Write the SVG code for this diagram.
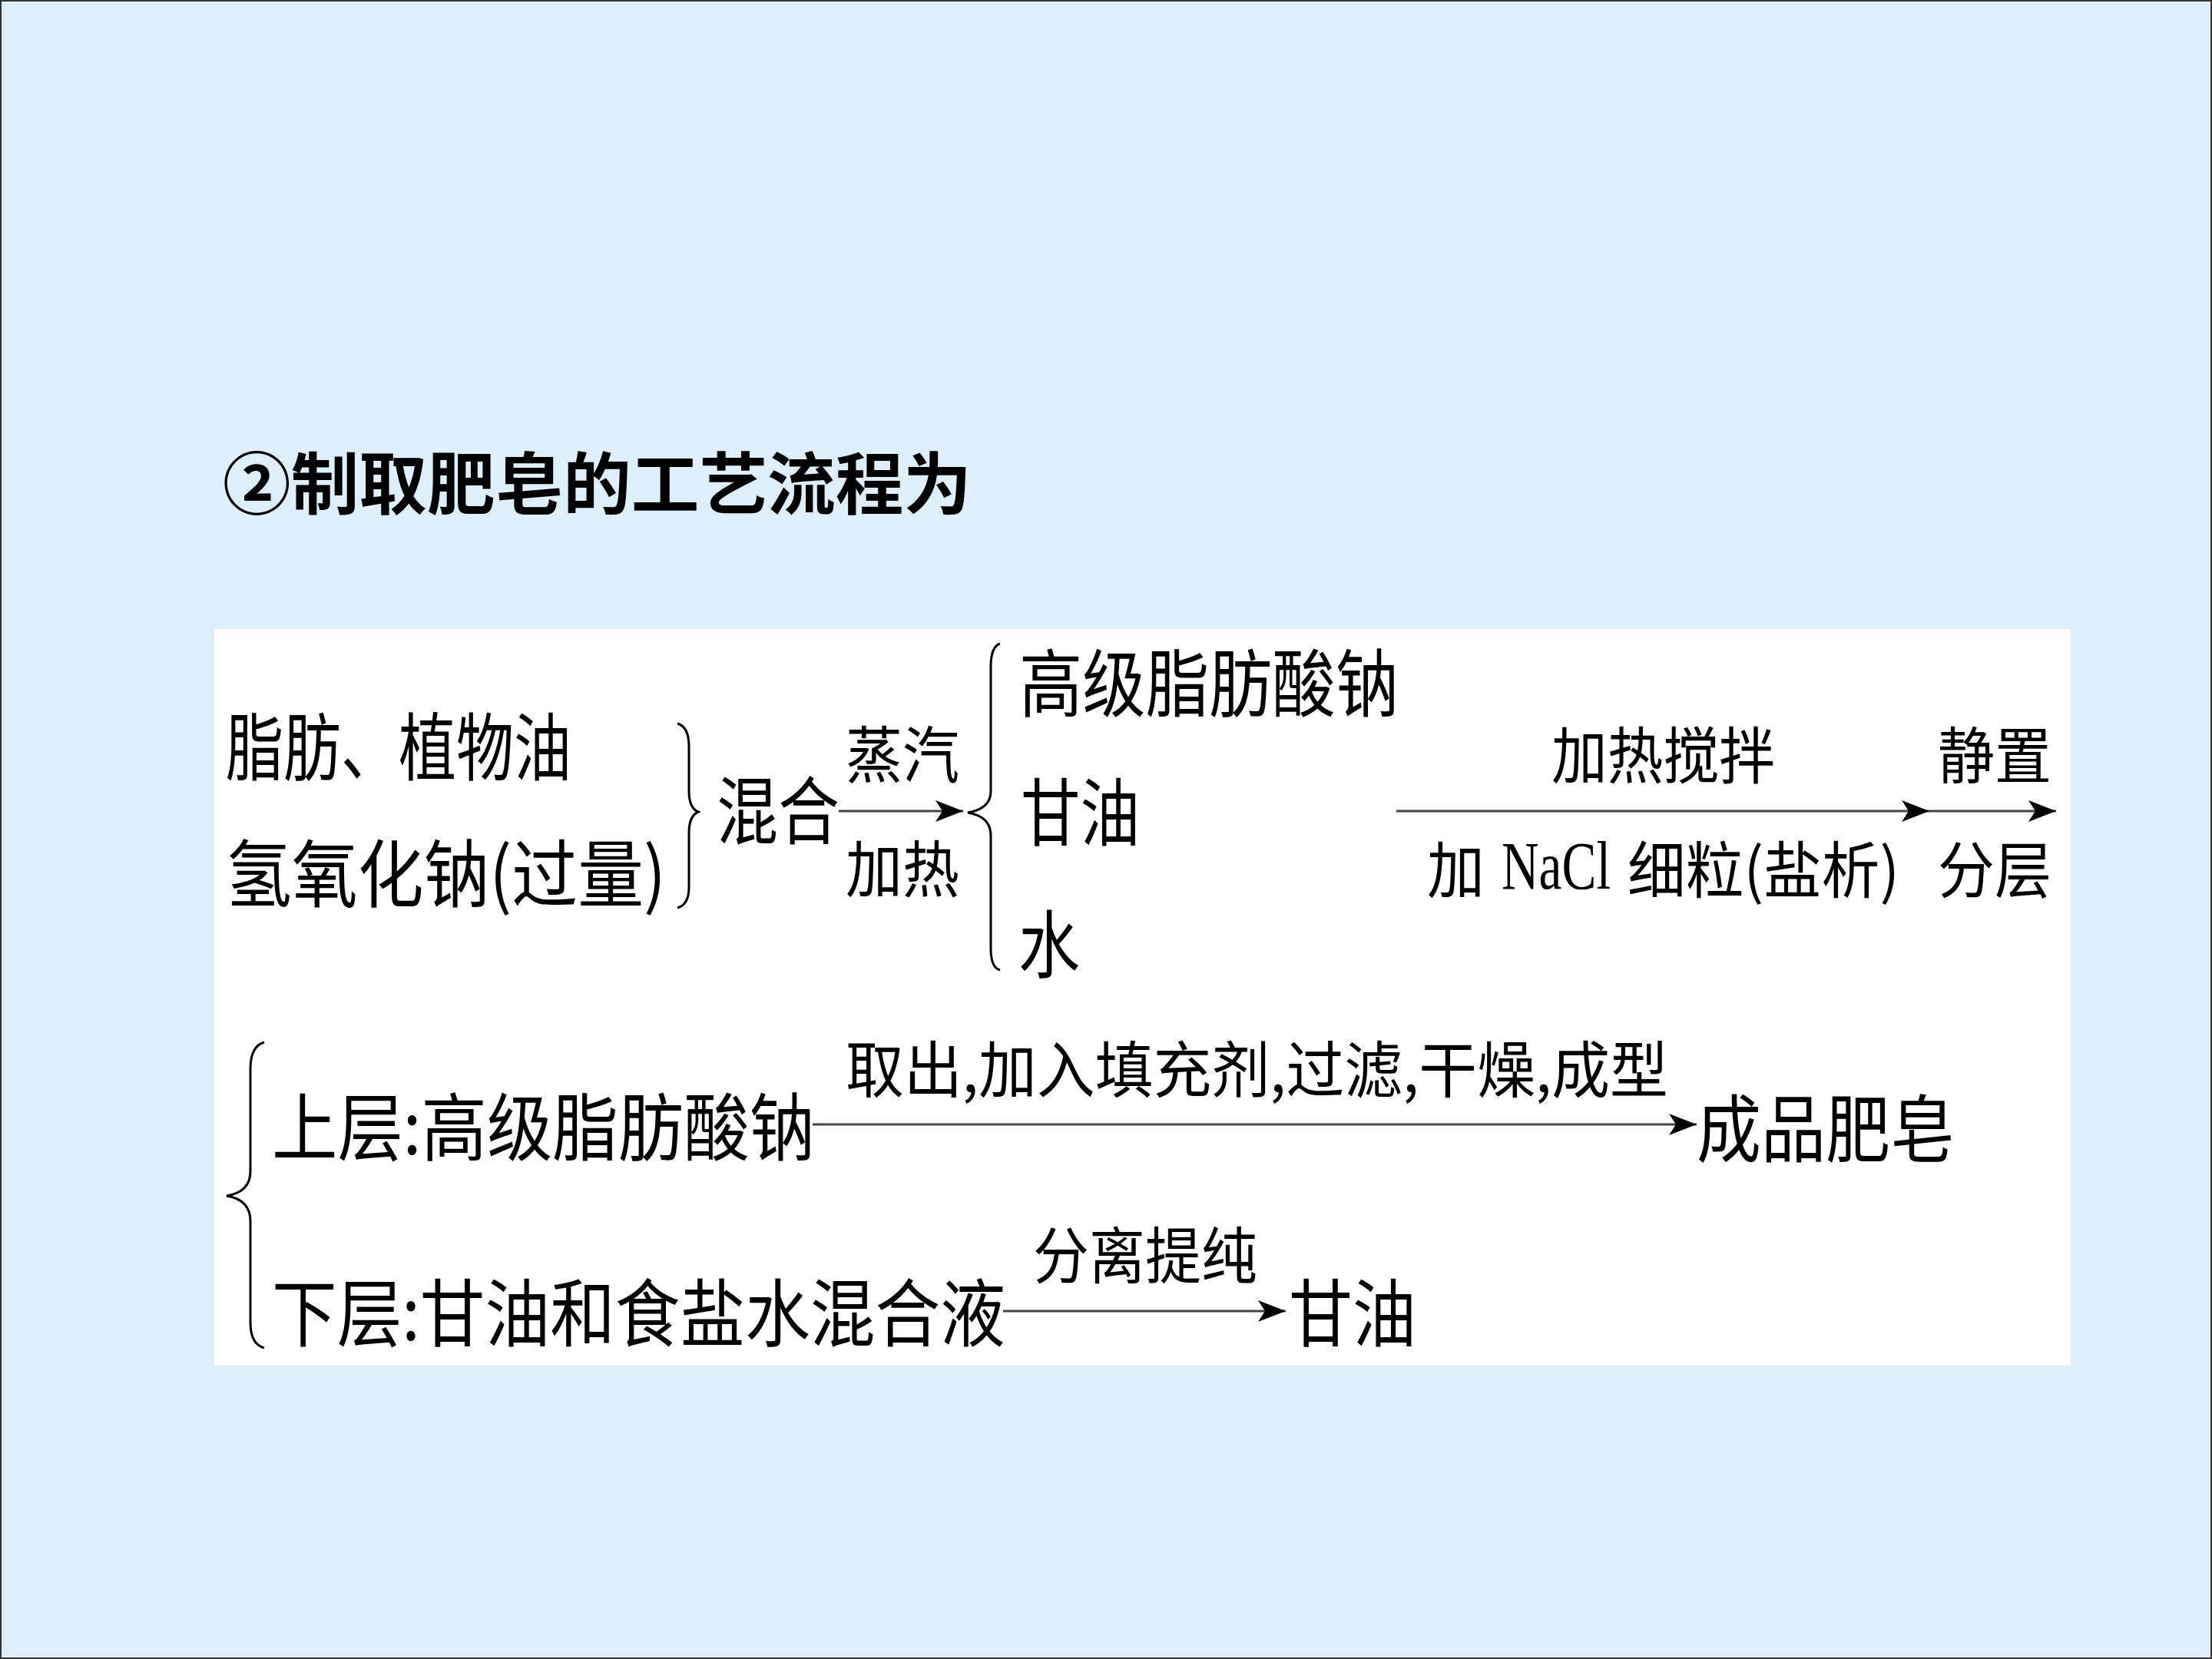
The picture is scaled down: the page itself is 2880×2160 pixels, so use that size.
<svg xmlns="http://www.w3.org/2000/svg" width="2880" height="2160" viewBox="0 0 2880 2160">
<defs>
<style>
.t{font-family:"Noto Sans CJK SC","Noto Sans CJK TC",sans-serif;font-size:96px;fill:#000;}
.s{font-family:"Noto Sans CJK SC","Noto Sans CJK TC",sans-serif;font-size:80px;fill:#000;}
.r{font-family:"Liberation Serif","Times New Roman",serif;font-size:88px;fill:#000;}
.ti{font-family:"Noto Sans CJK SC","Noto Sans CJK TC",sans-serif;font-size:88px;font-weight:bold;fill:#000;}
.ln{stroke:#444;stroke-width:3;fill:none;}
.br{stroke:#000;stroke-width:3;fill:none;}
</style>
<marker id="ah" markerUnits="userSpaceOnUse" markerWidth="36" markerHeight="28" refX="36" refY="14" orient="auto">
<path d="M0 0 L36 14 L0 28 L9 14 Z" fill="#000"/>
</marker>
</defs>
<rect x="0" y="0" width="2880" height="2160" fill="#DCEFFA"/>
<rect x="1" y="1" width="2878" height="2158" fill="none" stroke="#333" stroke-width="2"/>
<g id="title"><text class="ti" x="290" y="662" textLength="975" lengthAdjust="spacingAndGlyphs">②制取肥皂的工艺流程为</text></g>
<rect id="panel" x="279" y="819" width="2417" height="959" fill="#FFFFFF"/>
<g id="connectors">
<path class="br" d="M882 942 Q897 946 897 972 L897 1030 Q897 1052 909 1057 Q897 1062 897 1085 L897 1155 Q897 1178 882 1182"/>
<path class="br" d="M1302 838 Q1290 842 1290 868 L1290 1030 Q1290 1053 1260 1058 Q1290 1063 1290 1088 L1290 1235 Q1290 1260 1302 1263"/>
<path class="br" d="M344 1357 Q326 1362 326 1392 L326 1525 Q326 1552 295 1557 Q326 1562 326 1590 L326 1722 Q326 1750 344 1755"/>
<line class="ln" x1="1092" y1="1056" x2="1254" y2="1056" marker-end="url(#ah)"/>
<line class="ln" x1="1818" y1="1056" x2="2512" y2="1056" marker-end="url(#ah)"/>
<line class="ln" x1="2512" y1="1056" x2="2677" y2="1056" marker-end="url(#ah)"/>
<line class="ln" x1="1058" y1="1464" x2="2209" y2="1464" marker-end="url(#ah)"/>
<line class="ln" x1="1306" y1="1707" x2="1674" y2="1707" marker-end="url(#ah)"/>
</g>
<g id="fat"><text class="t" x="294" y="1008" textLength="450" lengthAdjust="spacingAndGlyphs">脂肪、植物油</text></g>
<g id="naoh"><text class="t" x="294" y="1173" textLength="573" lengthAdjust="spacingAndGlyphs">氢氧化钠(过量)</text></g>
<g id="mix"><text class="t" x="933" y="1091" textLength="160" lengthAdjust="spacingAndGlyphs">混合</text></g>
<g id="steam"><text class="s" x="1101" y="1012" textLength="148" lengthAdjust="spacingAndGlyphs">蒸汽</text></g>
<g id="heat"><text class="s" x="1101" y="1161" textLength="148" lengthAdjust="spacingAndGlyphs">加热</text></g>
<g id="soap-salt"><text class="t" x="1327" y="925" textLength="494" lengthAdjust="spacingAndGlyphs">高级脂肪酸钠</text></g>
<g id="glycerol"><text class="t" x="1329" y="1093" textLength="155" lengthAdjust="spacingAndGlyphs">甘油</text></g>
<g id="water"><text class="t" x="1326" y="1265" textLength="80" lengthAdjust="spacingAndGlyphs">水</text></g>
<g id="stir"><text class="s" x="2020" y="1013" textLength="291" lengthAdjust="spacingAndGlyphs">加热搅拌</text></g>
<g id="still"><text class="s" x="2523" y="1013" textLength="148" lengthAdjust="spacingAndGlyphs">静置</text></g>
<g id="nacl">
<text class="s" x="1858" y="1162" textLength="75" lengthAdjust="spacingAndGlyphs">加</text>
<text class="r" x="0" y="0" transform="translate(1955 1157) scale(0.76 1)" textLength="187" lengthAdjust="spacingAndGlyphs">NaCl</text>
<text class="s" x="2119" y="1162" textLength="354" lengthAdjust="spacingAndGlyphs">细粒(盐析)</text>
</g>
<g id="layer"><text class="s" x="2523" y="1162" textLength="148" lengthAdjust="spacingAndGlyphs">分层</text></g>
<g id="upper"><text class="t" x="354" y="1503" textLength="707" lengthAdjust="spacingAndGlyphs">上层:高级脂肪酸钠</text></g>
<g id="process"><text class="s" x="1101" y="1422" textLength="1071" lengthAdjust="spacingAndGlyphs">取出,加入填充剂,过滤,干燥,成型</text></g>
<g id="product"><text class="t" x="2209" y="1505" textLength="336" lengthAdjust="spacingAndGlyphs">成品肥皂</text></g>
<g id="lower"><text class="t" x="0" y="0" transform="translate(354 1745) scale(0.88 1)" textLength="1085" lengthAdjust="spacingAndGlyphs">下层:甘油和食盐水混合液</text></g>
<g id="purify"><text class="s" x="1345" y="1664" textLength="292" lengthAdjust="spacingAndGlyphs">分离提纯</text></g>
<g id="glycerol2"><text class="t" x="1678" y="1745" textLength="166" lengthAdjust="spacingAndGlyphs">甘油</text></g>
</svg>
